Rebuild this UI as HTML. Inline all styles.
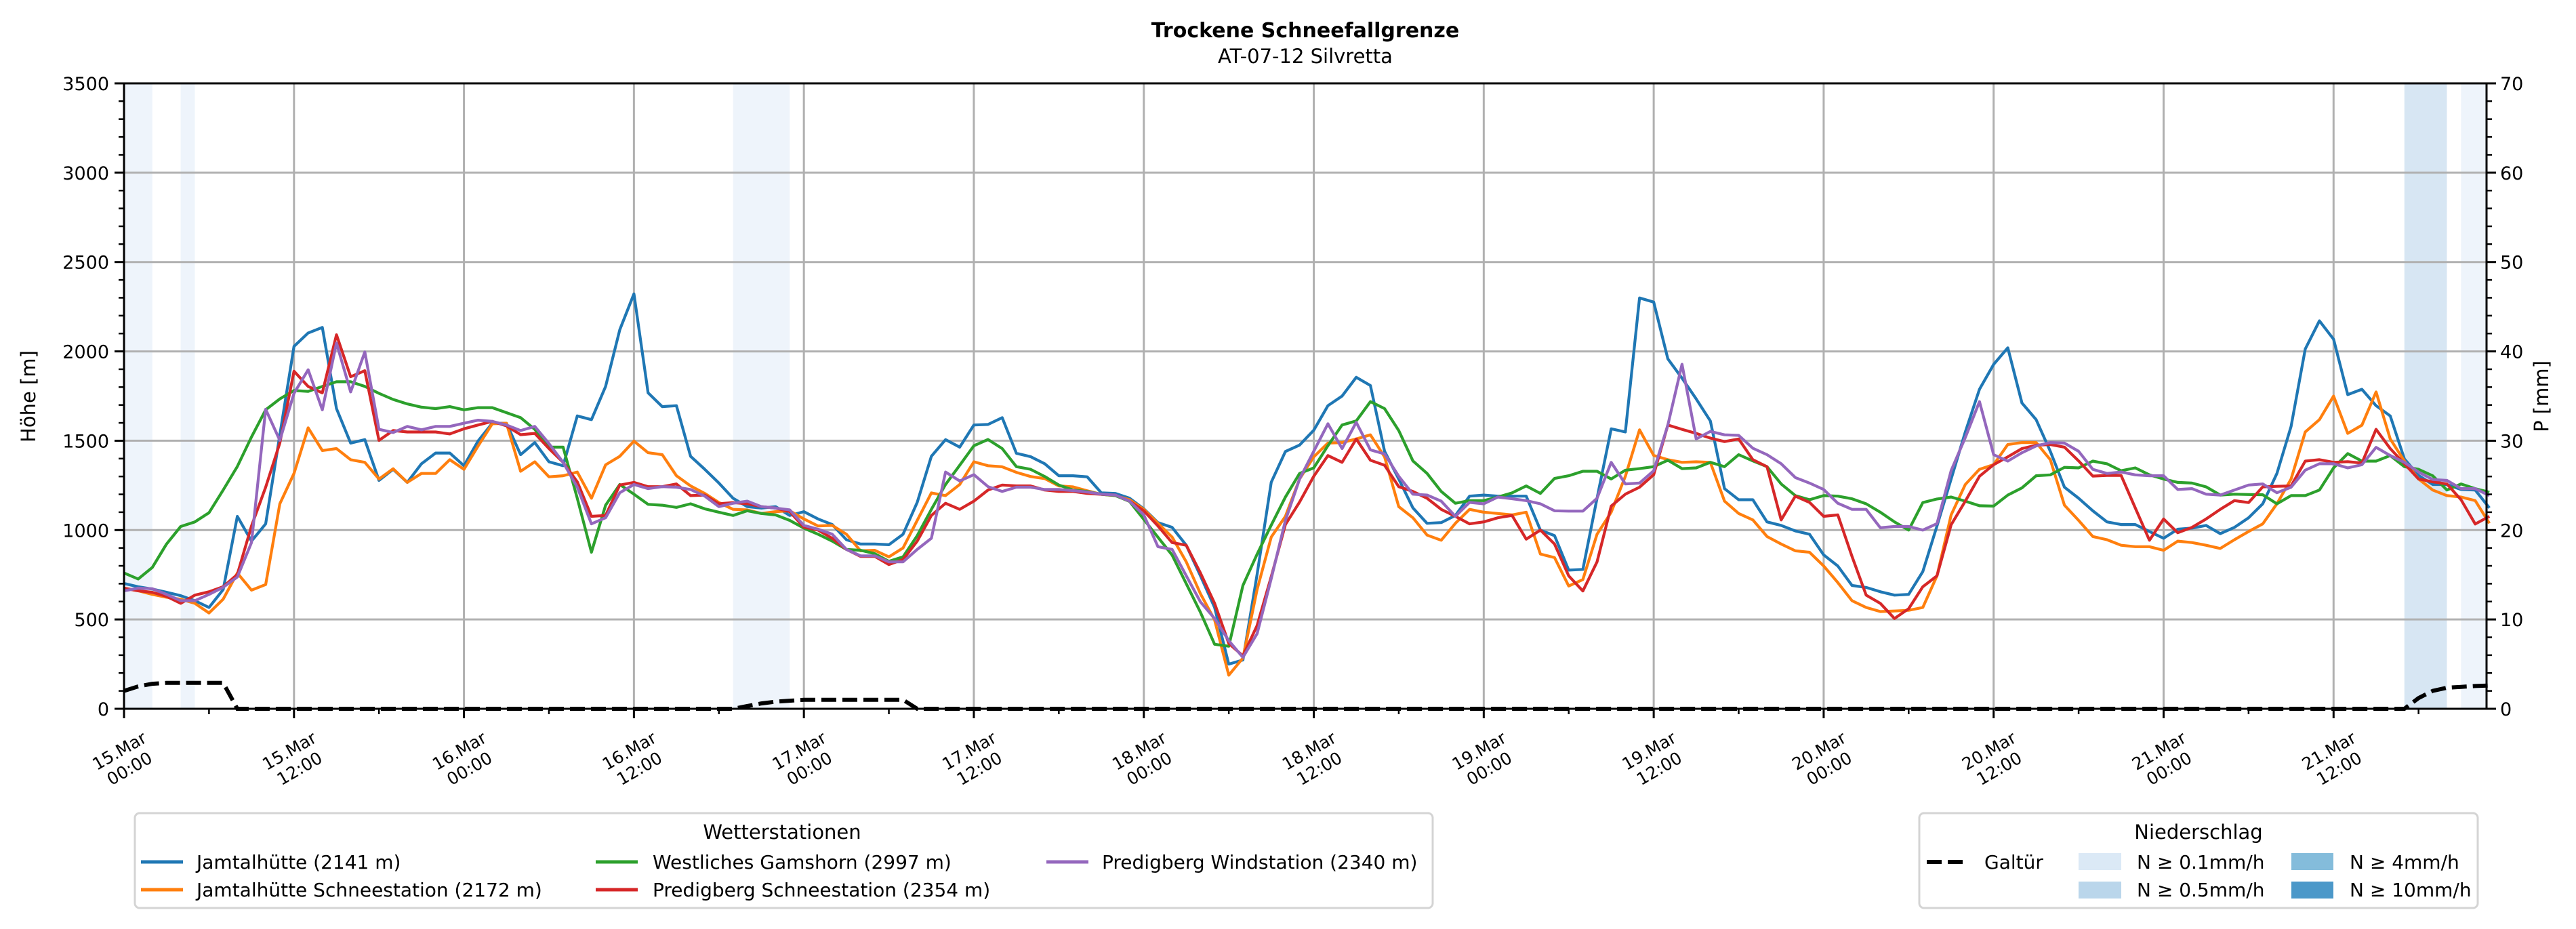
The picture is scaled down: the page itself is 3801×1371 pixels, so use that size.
<!DOCTYPE html>
<html><head><meta charset="utf-8"><style>
html,body{margin:0;padding:0;background:#fff;}
svg{display:block;font-family:"DejaVu Sans","Liberation Sans",sans-serif;}
</style></head><body>
<svg id="chart" xmlns="http://www.w3.org/2000/svg" width="3801" height="1371" viewBox="0 0 3801 1371">
<text x="1926" y="55" text-anchor="middle" font-size="30" font-weight="bold">Trockene Schneefallgrenze</text>
<text x="1926" y="93" text-anchor="middle" font-size="29">AT-07-12 Silvretta</text>
<g id="bands"></g>
<g id="grid"></g>
<g id="series"></g>
<g id="axes"></g>
<text transform="translate(52,585) rotate(-90)" text-anchor="middle" font-size="29">Höhe [m]</text>
<text transform="translate(3760,585) rotate(-90)" text-anchor="middle" font-size="29">P [mm]</text>
<g>
<rect x="199" y="1200" width="1915" height="140" rx="7" fill="#fff" stroke="#d4d4d4" stroke-width="3"/>
<text x="1154" y="1238" text-anchor="middle" font-size="29">Wetterstationen</text>
<g><line x1="208" y1="1272" x2="270" y2="1272" stroke="#1f77b4" stroke-width="5"/><text x="290" y="1282" font-size="28">Jamtalhütte (2141 m)</text></g>
<g><line x1="208" y1="1313" x2="270" y2="1313" stroke="#ff7f0e" stroke-width="5"/><text x="290" y="1323" font-size="28">Jamtalhütte Schneestation (2172 m)</text></g>
<g><line x1="879" y1="1272" x2="941" y2="1272" stroke="#2ca02c" stroke-width="5"/><text x="963" y="1282" font-size="28">Westliches Gamshorn (2997 m)</text></g>
<g><line x1="879" y1="1313" x2="941" y2="1313" stroke="#d62728" stroke-width="5"/><text x="963" y="1323" font-size="28">Predigberg Schneestation (2354 m)</text></g>
<g><line x1="1544" y1="1272" x2="1606" y2="1272" stroke="#9467bd" stroke-width="5"/><text x="1626" y="1282" font-size="28">Predigberg Windstation (2340 m)</text></g>
</g>
<g>
<rect x="2832" y="1200" width="824" height="140" rx="7" fill="#fff" stroke="#d4d4d4" stroke-width="3"/>
<text x="3244" y="1238" text-anchor="middle" font-size="29">Niederschlag</text>
<g><line x1="2843" y1="1272" x2="2902" y2="1272" stroke="#000" stroke-width="6" stroke-dasharray="22,9"/><text x="2928" y="1282" font-size="28">Galtür</text></g>
<g><rect x="3067" y="1259" width="63" height="25" fill="#dbe9f6"/><text x="3153" y="1282" font-size="28">N ≥ 0.1mm/h</text></g>
<g><rect x="3067" y="1301" width="63" height="25" fill="#bad6eb"/><text x="3153" y="1323" font-size="28">N ≥ 0.5mm/h</text></g>
<g><rect x="3381" y="1259" width="62" height="25" fill="#84bcdb"/><text x="3467" y="1282" font-size="28">N ≥ 4mm/h</text></g>
<g><rect x="3381" y="1301" width="62" height="25" fill="#4b98c9"/><text x="3467" y="1323" font-size="28">N ≥ 10mm/h</text></g>
</g>
</svg>
<script>
const blue=[701,683,670,652,633,605,567,667,1077,938,1035,1532,2028,2103,2134,1680,1487,1506,1278,1340,1267,1371,1431,1431,1360,1499,1598,1598,1422,1490,1382,1360,1639,1618,1804,2121,2322,1768,1691,1696,1413,1340,1263,1178,
1131,1123,1131,1082,1103,1062,1031,946,922,922,918,977,1155,1413,1506,1464,1588,1591,1629,1430,1411,1371,1304,1304,1298,1208,1205,1178,1119,1042,1015,915,744,567,250,273,752,1268,1440,1476,1559,1696,
1750,1855,1809,1441,1286,1124,1038,1042,1082,1190,1196,1190,1190,1190,1000,969,776,780,1178,1567,1549,2299,2276,1958,1850,1734,1611,1232,1170,1170,1046,1026,995,977,861,799,690,679,655,636,640,768,
1023,1286,1549,1788,1927,2020,1711,1618,1441,1240,1178,1108,1046,1031,1031,992,954,1005,1011,1026,980,1015,1069,1147,1317,1580,2013,2171,2068,1758,1788,1696,1639,1398,1306,1255,1255,1227,1224,1124];
const orange=[675,660,640,624,613,590,536,613,760,664,695,1147,1317,1572,1445,1456,1394,1379,1286,1343,1267,1317,1317,1394,1340,1471,1595,1598,1329,1382,1298,1304,1325,1178,1365,1413,1498,1433,1422,1304,1247,1205,1154,1116,
1113,1093,1103,1108,1062,1023,1026,977,884,887,850,900,1054,1208,1193,1255,1382,1360,1354,1323,1300,1288,1247,1242,1220,1200,1193,1170,1116,1038,961,822,644,497,188,284,667,961,1077,1286,1410,1487,
1490,1510,1533,1410,1131,1069,972,943,1038,1116,1100,1093,1085,1100,866,846,687,723,977,1100,1301,1561,1418,1394,1379,1382,1379,1162,1093,1057,964,922,884,876,799,706,605,567,544,547,551,567,
744,1085,1255,1340,1366,1479,1490,1490,1394,1139,1054,964,946,915,907,907,887,938,930,915,897,946,992,1035,1147,1286,1549,1618,1750,1541,1587,1773,1510,1386,1286,1224,1193,1185,1165,1038];
const green=[760,726,791,922,1020,1046,1097,1224,1356,1521,1673,1734,1781,1776,1804,1830,1830,1804,1765,1731,1706,1688,1680,1691,1673,1685,1685,1657,1629,1564,1464,1464,1178,876,1139,1255,1201,1144,1139,1127,1147,1119,1100,1082,
1108,1093,1085,1054,1011,977,938,892,887,868,825,850,969,1116,1255,1363,1472,1507,1456,1355,1340,1300,1252,1224,1216,1200,1193,1160,1060,960,860,700,540,361,350,690,865,1028,1185,1317,1348,1472,
1588,1611,1719,1680,1557,1387,1317,1216,1150,1165,1165,1185,1208,1247,1205,1289,1304,1329,1329,1286,1335,1344,1355,1391,1344,1348,1379,1355,1422,1387,1355,1258,1193,1170,1193,1190,1175,1147,1100,1046,1000,1154,
1174,1185,1162,1136,1134,1196,1236,1304,1309,1351,1348,1386,1371,1332,1348,1309,1286,1267,1263,1242,1196,1201,1199,1198,1147,1193,1193,1224,1348,1428,1386,1386,1417,1355,1340,1304,1224,1258,1232,1212];
const red=[675,660,652,629,590,636,655,683,752,1023,1240,1487,1889,1804,1768,2093,1858,1892,1502,1557,1549,1549,1549,1538,1567,1588,1608,1583,1534,1541,1456,1379,1270,1077,1082,1252,1267,1243,1243,1258,1193,1196,1147,1154,
1147,1131,1123,1103,1016,1000,954,892,853,853,807,835,938,1082,1150,1116,1162,1224,1252,1247,1247,1224,1216,1216,1205,1200,1196,1162,1108,1023,930,915,760,590,366,296,466,740,1031,1157,1301,1417,
1379,1510,1391,1363,1243,1216,1178,1116,1077,1035,1046,1069,1082,949,1000,922,744,659,822,1134,1201,1240,1310,1588,1564,1541,1515,1495,1510,1394,1355,1057,1190,1155,1077,1085,853,636,590,505,560,683,
744,1030,1162,1301,1366,1410,1456,1475,1479,1464,1387,1302,1306,1306,1124,943,1062,985,1015,1062,1116,1165,1154,1242,1245,1247,1386,1394,1379,1383,1375,1564,1456,1371,1286,1270,1258,1170,1034,1077];
const purple=[660,675,672,640,605,605,640,680,737,930,1676,1502,1765,1897,1673,2047,1773,1997,1564,1546,1580,1561,1580,1580,1598,1615,1608,1588,1557,1580,1484,1379,1240,1035,1069,1209,1255,1232,1243,1240,1227,1190,1131,1150,
1162,1131,1123,1113,1026,1005,977,892,856,856,822,822,892,954,1325,1275,1310,1243,1216,1240,1240,1227,1227,1221,1213,1201,1196,1162,1085,907,892,744,598,505,381,288,420,729,1054,1286,1441,1595,
1456,1603,1449,1426,1301,1201,1196,1162,1077,1155,1147,1185,1175,1165,1147,1108,1106,1106,1178,1379,1258,1263,1332,1588,1928,1510,1552,1533,1530,1458,1422,1371,1294,1263,1227,1150,1116,1116,1013,1020,1020,1000,
1036,1333,1518,1719,1422,1386,1433,1471,1490,1487,1441,1340,1317,1325,1309,1304,1304,1227,1232,1201,1196,1224,1252,1258,1209,1240,1335,1371,1371,1348,1366,1463,1417,1379,1325,1283,1278,1232,1232,1193];
const galtuerHours=[0,1,2,3,7,8,43,44,45,46,47,48,55,56,161,162,163,164,165,166,167];
const galtuerMM=[2.0,2.5,2.8,2.9,2.9,0,0,0.3,0.6,0.8,0.9,1.0,1.0,0,0,1.2,2.0,2.35,2.45,2.55,2.6];
const bandStart=[0,4,43,161,165];
const bandEnd=[2,5,47,164,166.8];
const bandLevel=[0,0,0,1,0];
const yTicks=[0,500,1000,1500,2000,2500,3000,3500];
const y2Ticks=[0,10,20,30,40,50,60,70];
const xTickHours=[0,12,24,36,48,60,72,84,96,108,120,132,144,156];
const xTickLine1=["15.Mar","15.Mar","16.Mar","16.Mar","17.Mar","17.Mar","18.Mar","18.Mar","19.Mar","19.Mar","20.Mar","20.Mar","21.Mar","21.Mar"];
const xTickLine2=["00:00","12:00","00:00","12:00","00:00","12:00","00:00","12:00","00:00","12:00","00:00","12:00","00:00","12:00"];

const NS="http://www.w3.org/2000/svg";
const X0=183,X1=3669,Y0=1046,Y1=123,XMAX=166.8,YMAX=3500,PMAX=70;
const xs=h=>X0+h*(X1-X0)/XMAX;
const yL=v=>Y0-v*(Y0-Y1)/YMAX;
const yR=p=>Y0-p*(Y0-Y1)/PMAX;
function mk(tag,attrs,parent){const e=document.createElementNS(NS,tag);for(const k in attrs)e.setAttribute(k,attrs[k]);parent.appendChild(e);return e;}
const gB=document.getElementById('bands'),gG=document.getElementById('grid'),gS=document.getElementById('series'),gA=document.getElementById('axes');
const bandColors=["#eef4fb","#d7e6f3"];
bandStart.forEach((s,i)=>{
  const r=mk('rect',{x:xs(s),y:Y1,width:xs(bandEnd[i])-xs(s),height:Y0-Y1,fill:bandColors[bandLevel[i]]},gB);
  
  
});
yTicks.forEach(v=>{
  const l=mk('line',{x1:X0,x2:X1,y1:yL(v),y2:yL(v),stroke:"#b0b0b0","stroke-width":3},gG);
  
  
});
xTickHours.forEach(h=>{
  const l=mk('line',{x1:xs(h),x2:xs(h),y1:Y1,y2:Y0,stroke:"#b0b0b0","stroke-width":3},gG);
  
  
});
const seriesList=[[blue,"#1f77b4","series-jamtalhuette"],[orange,"#ff7f0e","series-jamtal-schneestation"],[green,"#2ca02c","series-gamshorn"],[red,"#d62728","series-predigberg-schnee"],[purple,"#9467bd","series-predigberg-wind"]];
seriesList.forEach(([arr,col,nm])=>{
  const d=arr.map((v,i)=>(i?'L':'M')+xs(i).toFixed(1)+','+yL(v).toFixed(1)).join(' ');
  const p=mk('path',{d:d,fill:"none",stroke:col,"stroke-width":4.2,"stroke-linejoin":"round"},gS);
  
  
});
const gd=galtuerHours.map((h,i)=>(i?'L':'M')+xs(h).toFixed(1)+','+yR(galtuerMM[i]).toFixed(1)).join(' ');
const gp=mk('path',{d:gd,fill:"none",stroke:"#000","stroke-width":6,"stroke-dasharray":"22,9"},gS);


const fr=mk('rect',{x:X0,y:Y1,width:X1-X0,height:Y0-Y1,fill:"none",stroke:"#000","stroke-width":3},gA);


for(let v=0;v<=YMAX;v+=100){
  const major=v%500===0;
  const t=mk('line',{x1:X0-(major?14:8),x2:X0,y1:yL(v),y2:yL(v),stroke:"#000","stroke-width":major?3:2.5},gA);
  
  
}
yTicks.forEach(v=>{
  const t=mk('text',{x:X0-22,y:yL(v)+10,"text-anchor":"end","font-size":27},gA);
  t.textContent=String(v);
  
  
});
for(let p=0;p<=PMAX;p+=2){
  const major=p%10===0;
  const t=mk('line',{x1:X1,x2:X1+(major?14:8),y1:yR(p),y2:yR(p),stroke:"#000","stroke-width":major?3:2.5},gA);
  
  
}
y2Ticks.forEach(p=>{
  const t=mk('text',{x:X1+20,y:yR(p)+10,"text-anchor":"start","font-size":27},gA);
  t.textContent=String(p);
  
  
});
for(let h=0;h<=XMAX;h+=6){
  const major=h%12===0;
  const t=mk('line',{x1:xs(h),x2:xs(h),y1:Y0,y2:Y0+(major?14:8),stroke:"#000","stroke-width":major?3:2.5},gA);
  
  
}
xTickHours.forEach((h,i)=>{
  const t=mk('text',{transform:`translate(${xs(h)},1120) rotate(-30)`,"text-anchor":"middle","font-size":25},gA);
  const a=mk('tspan',{x:0,y:-5},t);a.textContent=xTickLine1[i];
  const b=mk('tspan',{x:0,y:25},t);b.textContent=xTickLine2[i];
  
  
});
</script>
</body></html>
